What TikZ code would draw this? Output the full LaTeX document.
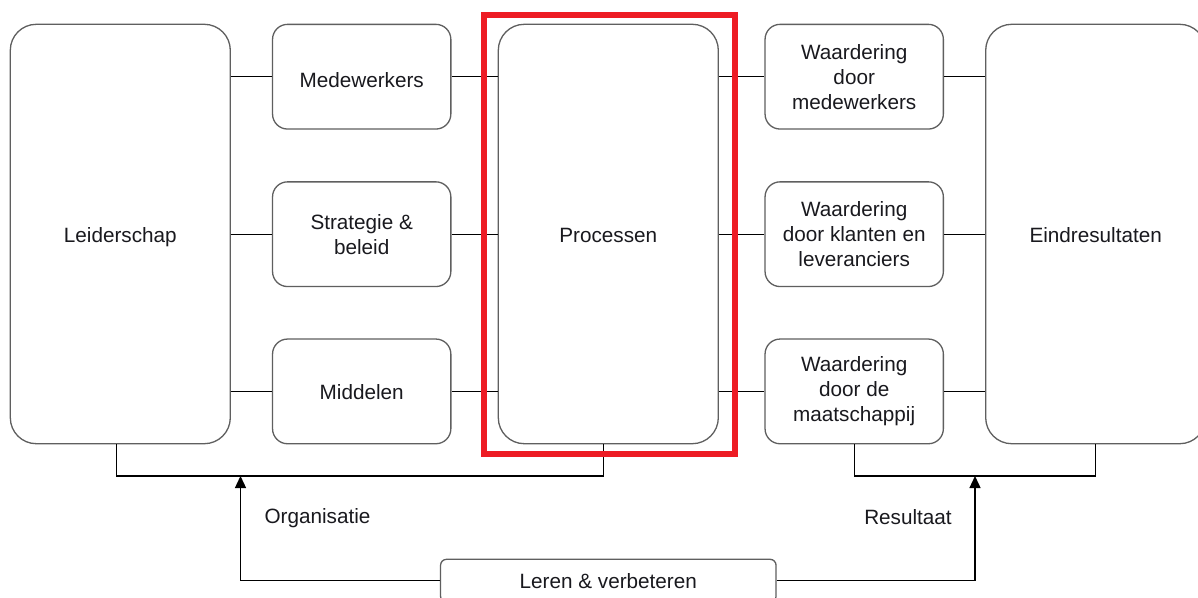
\documentclass[tikz,border=0pt]{standalone}
\usepackage{fontspec}
\setmainfont{Liberation Sans}
\usetikzlibrary{arrows.meta}
\definecolor{boxgray}{RGB}{95,95,95}
\definecolor{hlred}{RGB}{237,28,36}
\definecolor{txt}{RGB}{25,25,30}
\newcommand\dfont{\fontsize{20.7pt}{25pt}\selectfont}
\newcommand\dn[2][3pt]{\raisebox{-#1}[\height][\depth]{#2}}
\begin{document}
\begin{tikzpicture}[x=1pt,y=-1pt,
  bigbox/.style={draw=boxgray, line width=1.3pt, rounded corners=26pt,
    minimum width=220pt, minimum height=419.4pt, align=center, font=\dfont, text=txt, inner sep=0pt},
  smallbox/.style={draw=boxgray, line width=1.3pt, rounded corners=15pt,
    minimum width=178.3pt, minimum height=104.7pt, align=center, font=\dfont, text=txt, inner sep=0pt},
  lowbox/.style={draw=boxgray, line width=1.3pt, rounded corners=6pt,
    minimum width=335.5pt, minimum height=43pt, align=center, font=\dfont, text=txt, inner sep=0pt},
  conn/.style={line width=1.3pt, black},
  arr/.style={conn, -{Triangle[length=12pt,width=11pt]}},
  lbl/.style={font=\dfont, text=txt, inner sep=0pt},
  hl/.style={draw=hlred, line width=6pt}
]
\clip (0,0) rectangle (1198,597);
\useasboundingbox (0,0) rectangle (1198,597);
\fill[white] (0,0) rectangle (1198,597);

% columns
\node[bigbox] (leid) at (120.3,234) {\dn{Leiderschap}};
\node[smallbox] (med) at (361.7,76.7) {\dn{Medewerkers}};
\node[smallbox] (strat) at (361.7,234.2) {Strategie \&\\beleid};
\node[smallbox] (midd) at (361.7,391.4) {\dn[1pt]{Middelen}};
\node[bigbox] (proc) at (608.3,234) {\dn[1pt]{Processen}};
\node[smallbox] (w1) at (854.2,76.7) {Waardering\\door\\medewerkers};
\node[smallbox] (w2) at (854.2,234.2) {Waardering\\door klanten en\\leveranciers};
\node[smallbox] (w3) at (854.2,391.4) {Waardering\\door de\\maatschappij};
\node[bigbox] (eind) at (1095.7,234) {\dn[1pt]{Eindresultaten}};
\node[lowbox] (leren) at (608.3,580.8) {Leren \& verbeteren};

% horizontal connectors
\foreach \b in {med,strat,midd}{
  \draw[conn] (leid.east |- \b.west) -- (\b.west);
  \draw[conn] (\b.east) -- (proc.west |- \b.east);
}
\foreach \b in {w1,w2,w3}{
  \draw[conn] (proc.east |- \b.west) -- (\b.west);
  \draw[conn] (\b.east) -- (eind.west |- \b.east);
}

% brackets
\coordinate (orgbar) at (240.5,476);
\coordinate (resbar) at (975,476);
\draw[conn] ([xshift=-3.8pt]leid.south) |- (orgbar) -| ([xshift=-4.8pt]proc.south);
\draw[conn] ([xshift=0.3pt]w3.south) |- (resbar) -| (eind.south);

% arrows from Leren
\draw[arr] (leren.west) -| (orgbar);
\draw[arr] (leren.east) -| (resbar);

% labels
\node[lbl] (org) at (317.5,518) {Organisatie};
\node[lbl] (res) at (908,517.5) {Resultaat};

% highlight
\draw[hl] (483.7,15) rectangle (734.5,453.5);
\end{tikzpicture}
\end{document}
